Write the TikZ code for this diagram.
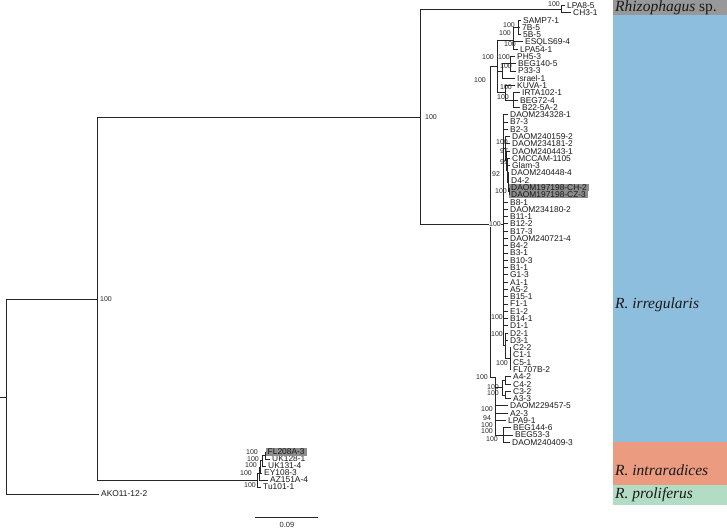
\documentclass[tikz,border=0pt]{standalone}
\usepackage{fontspec}
\setmainfont{Liberation Serif}
\newfontfamily\lab{Liberation Sans}
\definecolor{bandgray}{RGB}{152,152,152}
\definecolor{bandblue}{RGB}{142,190,221}
\definecolor{bandorange}{RGB}{234,155,128}
\definecolor{bandgreen}{RGB}{178,221,196}
\definecolor{hlgray}{RGB}{140,140,140}
\begin{document}
\begin{tikzpicture}[x=1pt,y=-1pt,
  br/.style={draw=black!85, line width=0.9pt},
  leaf/.style={anchor=west, inner xsep=2pt, inner ysep=0pt, text height=5.9pt, text depth=0pt, font=\lab\fontsize{8.4}{8.4}\selectfont, text=black!90},
  hl/.style={leaf, fill=hlgray, inner ysep=0.7pt},
  bs/.style={inner sep=0pt, font=\lab\fontsize{7}{7}\selectfont, text=black!85},
  bsw/.style={bs, fill=white, inner sep=0.4pt},
  sp/.style={anchor=base west, inner sep=0pt, font=\fontsize{15.5}{16}\selectfont\itshape, text=black!90}]
\useasboundingbox (0,0) rectangle (727,530);
% colour bands
\fill[bandgray] (613,0) rectangle (727,15);
\fill[bandblue] (613,15) rectangle (727,442);
\fill[bandorange] (613,442) rectangle (727,485);
\fill[bandgreen] (613,485) rectangle (727,505);
\node[sp] (sp1) at (615,12) {Rhizophagus \upshape sp.};
\node[sp] (sp2) at (615,308) {R. irregularis};
\node[sp] (sp3) at (615,475) {R. intraradices};
\node[sp] (sp4) at (615,498) {R. proliferus};
% internal nodes
\coordinate (r) at (0,397);
\coordinate (R0) at (6,397);
\coordinate (N97) at (97,299);
\coordinate (A) at (420,117);
\coordinate (Rh) at (561,9.1);
\coordinate (B) at (490,224);
\coordinate (T) at (497,66.5);
\coordinate (T1) at (513,40);
\coordinate (T1a) at (518,27.3);
\coordinate (T2) at (502,71);
\coordinate (T2a) at (510,63.7);
\coordinate (T3) at (505,92.9);
\coordinate (T3b) at (513,100.1);
\coordinate (P) at (503,224);
\coordinate (Pe) at (505,148.6);
\coordinate (Pd) at (506,160.7);
\coordinate (Pc) at (507,170.2);
\coordinate (Pb) at (508,182);
\coordinate (Pa) at (509,191.1);
\coordinate (Pf) at (505,345.9);
\coordinate (Pg) at (510,358.6);
\coordinate (L) at (495,377);
\coordinate (La) at (502,387.7);
\coordinate (La1) at (505,380.4);
\coordinate (La2) at (505,395);
\coordinate (Lc) at (503,435);
\coordinate (IR) at (257,480.25);
\coordinate (N1) at (259,473.5);
\coordinate (N2) at (260.5,467);
\coordinate (N3) at (262.5,460.75);
\coordinate (N4) at (265,455.5);
% internal branches
\draw[br] (r) -- (R0);
\draw[br] (R0) |- (N97);
\draw[br] (N97) |- (A);
\draw[br] (N97) |- (IR);
\draw[br] (A) |- (Rh);
\draw[br] (A) |- (B);
\draw[br] (B) |- (T);
\draw[br] (B) |- (P);
\draw[br] (B) |- (L);
\draw[br] (T) |- (T1);
\draw[br] (T) |- (T2);
\draw[br] (T) |- (T3);
\draw[br] (T1) |- (T1a);
\draw[br] (T2) |- (T2a);
\draw[br] (T3) |- (T3b);
\draw[br] (P) |- (Pe);
\draw[br] (Pe) |- (Pd);
\draw[br] (Pd) |- (Pc);
\draw[br] (Pc) |- (Pb);
\draw[br] (Pb) |- (Pa);
\draw[br] (P) |- (Pf);
\draw[br] (Pf) |- (Pg);
\draw[br] (L) |- (La);
\draw[br] (La) |- (La1);
\draw[br] (La) |- (La2);
\draw[br] (L) |- (Lc);
\draw[br] (IR) |- (N1);
\draw[br] (N1) |- (N2);
\draw[br] (N2) |- (N3);
\draw[br] (N3) |- (N4);
% leaves
\foreach \i/\t/\x/\p in {1/LPA8-5/565/Rh, 2/CH3-1/571/Rh, 3/SAMP7-1/521/T1a, 4/7B-5/520/T1a, 5/5B-5/521/T1a,
  6/ESQLS69-4/523/T1, 7/LPA54-1/518/T1, 8/PH5-3/515/T2a, 9/BEG140-5/516/T2a, 10/P33-3/516/T2a,
  11/Israel-1/515/T2, 12/KUVA-1/515/T3, 13/IRTA102-1/520/T3b, 14/BEG72-4/518/T3b, 15/B22-5A-2/520/T3b,
  16/DAOM234328-1/508/P, 17/B7-3/508/P, 18/B2-3/508/P, 19/DAOM240159-2/510/Pe, 20/DAOM234181-2/510/Pe,
  21/DAOM240443-1/510/Pd, 22/CMCCAM-1105/510/Pc, 23/Glam-3/510/Pc, 24/DAOM240448-4/509/Pb, 25/D4-2/509/Pb,
  28/B8-1/508/P, 29/DAOM234180-2/508/P, 30/B11-1/508/P, 31/B12-2/508/P, 32/B17-3/508/P,
  33/DAOM240721-4/508/P, 34/B4-2/508/P, 35/B3-1/508/P, 36/B10-3/508/P, 37/B1-1/508/P,
  38/G1-3/508/P, 39/A1-1/508/P, 40/A5-2/508/P, 41/B15-1/508/P, 42/F1-1/508/P,
  43/E1-2/508/P, 44/B14-1/508/P, 45/D1-1/508/P, 46/D2-1/508/Pf, 47/D3-1/508/Pf,
  48/C2-2/511/Pg, 49/C1-1/511/Pg, 50/C5-1/511/Pg, 51/FL707B-2/511/Pg, 52/A4-2/511/La1,
  53/C4-2/511/La1, 54/C3-2/511/La2, 55/A3-3/511/La2, 56/DAOM229457-5/508/L, 57/A2-3/508/L,
  58/LPA9-1/506/L, 59/BEG144-6/511/Lc, 60/BEG53-3/513/Lc, 61/DAOM240409-3/510/Lc}
{
  \node[leaf] (l\i) at (\x,{5.5+(\i-1)*7.28}) {\t};
  \draw[br] (\p) |- (l\i.west);
}
\node[hl] (l26) at (509,{5.5+25*7.28}) {DAOM197198-CH-2};
\node[hl] (l27) at (509,{5.5+26*7.28}) {DAOM197198-CZ-3};
\draw[br] (Pa) |- (l26.west);
\draw[br] (Pa) |- (l27.west);
\foreach \i/\t/\x/\p in {63/UK128-1/270/N4, 64/UK131-4/266/N3, 65/EY108-3/262/N2, 66/AZ151A-4/268/N1, 67/Tu101-1/261/IR}
{
  \node[leaf] (l\i) at (\x,{452+(\i-62)*7}) {\t};
  \draw[br] (\p) |- (l\i.west);
}
\node[hl] (l62) at (265.5,452) {FL208A-3};
\draw[br] (N4) |- (l62.west);
\node[leaf] (l68) at (99,494) {AKO11-12-2};
\draw[br] (R0) |- (l68.west);
% bootstrap values
\foreach \n/\x/\y/\v in {1/106/299/100, 2/431/117/100, 3/554/4.5/100, 4/509/25/100, 5/505/33/100,
  6/510/44/100, 7/488/57/100, 8/504/57/100, 9/506/66/100, 10/480/80/100,
  11/506/87/100, 12/503/97/100, 13/502/142/100, 14/504/151/97, 15/504/162/99,
  16/496/174/92, 17/501/191/100, 19/497/317/100, 20/497/334/100,
  21/502/363/100, 22/482/377/100, 23/493/387/100, 24/493/393/100, 25/487/409/100,
  26/487/418/94, 27/487/425/100, 28/487/431.5/100, 29/492/439/100, 30/252/452.5/100,
  31/253/459/100, 32/251/465.5/100, 33/246/473/100, 34/250/485/100}
{
  \node[bs] (b\n) at (\x,\y) {\v};
}
\node[bsw] (b18) at (495,224) {100};
% scale bar
\coordinate (sb1) at (255,517);
\coordinate (sb2) at (318,517);
\draw[br] (sb1) -- (sb2);
\node[bs, font=\lab\fontsize{7.5}{8}\selectfont] (sbl) at (287,525) {0.09};
\end{tikzpicture}
\end{document}
